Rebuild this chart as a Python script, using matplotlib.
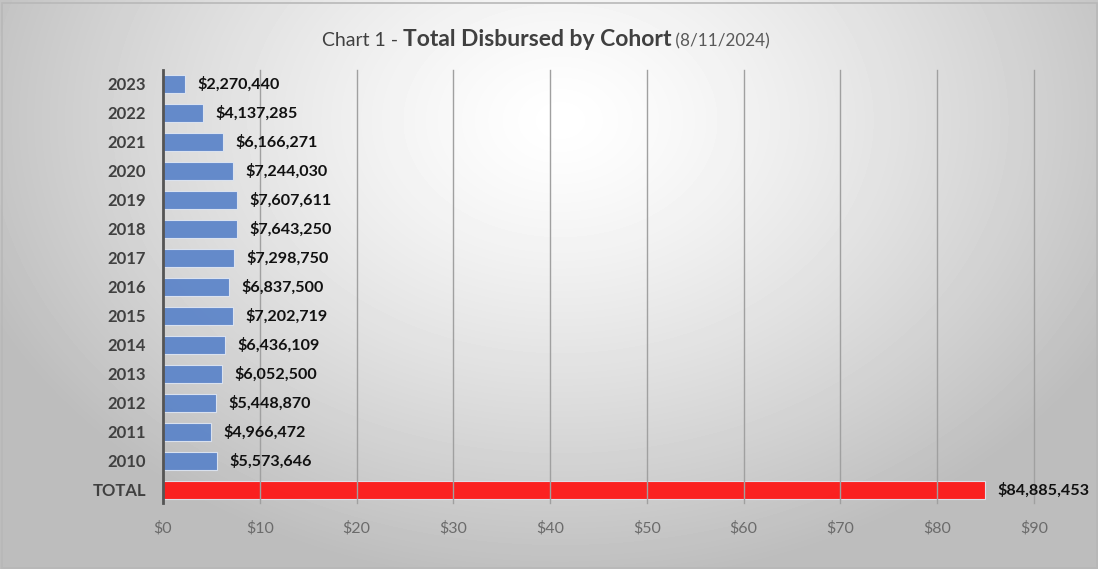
import numpy as np
import matplotlib.pyplot as plt
from matplotlib.patches import Rectangle

# Data (dollars)
cohorts = ["2023", "2022", "2021", "2020", "2019", "2018", "2017", "2016",
           "2015", "2014", "2013", "2012", "2011", "2010", "TOTAL"]
disbursed = [2270440, 4137285, 6166271, 7244030, 7607611, 7643250, 7298750,
             6837500, 7202719, 6436109, 6052500, 5448870, 4966472, 5573646,
             84885453]
x_ticks = [0, 10, 20, 30, 40, 50, 60, 70, 80, 90]

plt.rcParams['font.family'] = ['Lato', 'DejaVu Sans']

W, H = 1098, 569
fig = plt.figure(figsize=(W / 100, H / 100), dpi=100)

# Radial gradient background
bg = fig.add_axes([0, 0, 1, 1], zorder=-10)
yy, xx = np.mgrid[0:H, 0:W]
r = np.sqrt(((xx - 560) / 700.0) ** 2 + ((yy - 120) / 520.0) ** 2)
shade = np.clip(1.0 - 0.30 * r ** 1.3, 0.74, 1.0)
bg.imshow(shade, cmap='gray', vmin=0, vmax=1, aspect='auto',
          extent=[0, W, H, 0], interpolation='bilinear')
bg.add_patch(Rectangle((1.5, 2.5), W - 3, H - 4, fill=False,
                       edgecolor='#b8b8b8', lw=1.2))
bg.set_xlim(0, W)
bg.set_ylim(H, 0)
bg.axis('off')

ax = fig.add_axes([163 / W, 1 - 503 / H, (1034 - 163) / W, (503 - 70) / H])
ax.patch.set_alpha(0)

values_m = [v / 1e6 for v in disbursed]
colors = ['#5b84c9'] * (len(cohorts) - 1) + ['#ff1414']
ypos = np.arange(len(cohorts))
bars = ax.barh(ypos, values_m, height=0.62, color=colors, alpha=0.93,
               edgecolor='#dfe6f2', linewidth=0.8, zorder=2)

for y, v, vm in zip(ypos, disbursed, values_m):
    ax.annotate(f"${v:,.0f}", (vm, y), xytext=(9, 0), textcoords='offset points',
                ha='left', va='center', fontsize=11.6, fontweight='bold',
                color='#111111', zorder=3)

ax.set_ylim(len(cohorts) - 0.55, -0.48)
ax.set_xlim(0, 90)
ax.set_xticks(x_ticks)
ax.set_xticklabels([f"${t}" for t in x_ticks])
ax.set_yticks(ypos)
ax.set_yticklabels(cohorts)
ax.tick_params(axis='x', length=0, pad=13, labelsize=11.5, labelcolor='#6b6b6b')
ax.tick_params(axis='y', length=0, pad=12, labelsize=12, labelcolor='#404040')
for lab in ax.get_yticklabels():
    lab.set_fontweight('bold')

ax.grid(axis='x', color='#a0a0a0', linewidth=1.0, zorder=1)
for gl in ax.get_xgridlines():
    gl.set_clip_on(False)
ax.set_axisbelow(False)
for s in ['top', 'right', 'bottom']:
    ax.spines[s].set_visible(False)
ax.spines['left'].set_color('#555555')
ax.spines['left'].set_linewidth(2.0)
ax.spines['left'].set_zorder(4)

# Title in three pieces
parts = [("Chart 1 - ", 14, 'normal', '#404040'),
         ("Total Disbursed by Cohort", 16.5, 'bold', '#404040'),
         (" (8/11/2024)", 12.3, 'normal', '#595959')]
fig.canvas.draw()
renderer = fig.canvas.get_renderer()
texts = []
for s, size, weight, col in parts:
    t = fig.text(0, 1 - 46 / H, s, fontsize=size, fontweight=weight,
                 color=col, va='baseline', ha='left')
    texts.append(t)
widths = [t.get_window_extent(renderer).width for t in texts]
x0 = 546 - sum(widths) / 2
for t, w in zip(texts, widths):
    t.set_x(x0 / W)
    x0 += w

fig.savefig("out.png", dpi=100)
